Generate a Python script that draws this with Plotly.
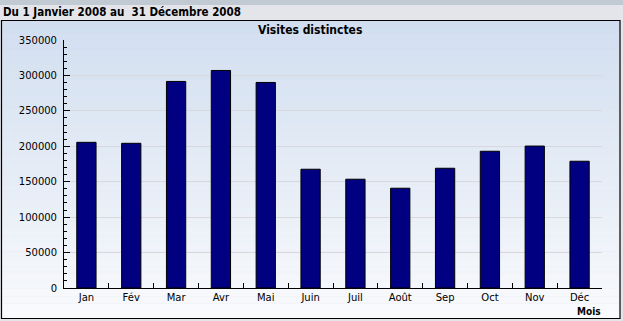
import plotly.graph_objects as go

months = ["Jan", "Fév", "Mar", "Avr", "Mai", "Juin", "Juil", "Août", "Sep", "Oct", "Nov", "Déc"]
visits = [205600, 204200, 291500, 307000, 290100, 167600, 153500, 140800, 169000, 193000, 200300, 178900]
y_ticks = [0, 50000, 100000, 150000, 200000, 250000, 300000, 350000]

W, H = 623, 321
L, R, T, B = 64, 21, 40, 33
pw, ph = W - L - R, H - T - B

def px(x):
    return (x - L) / pw

def py(y):
    return 1 - (y - T) / ph

shapes = []
# top band
shapes.append(dict(type="rect", xref="paper", yref="paper", x0=px(0), x1=px(W), y0=py(5), y1=py(0),
                   fillcolor="#c1c9d3", line_width=0, layer="below"))
# gradient box
top_c = (209, 222, 240)
bot_c = (249, 250, 252)
y_top, y_bot = 20.5, 318.5
n = 40
for i in range(n):
    a = y_top + (y_bot - y_top) * i / n
    b = y_top + (y_bot - y_top) * (i + 1) / n
    t = (i + 0.5) / n
    c = tuple(round(top_c[k] + (bot_c[k] - top_c[k]) * t) for k in range(3))
    shapes.append(dict(type="rect", xref="paper", yref="paper", x0=px(1.5), x1=px(620), y0=py(b), y1=py(a),
                       fillcolor="rgb(%d,%d,%d)" % c, line_width=0, layer="below"))
shapes.append(dict(type="rect", xref="paper", yref="paper", x0=px(1.5), x1=px(620), y0=py(y_bot), y1=py(y_top),
                   fillcolor="rgba(0,0,0,0)", line=dict(color="black", width=1.2), layer="below"))

fig = go.Figure(go.Bar(
    x=months, y=visits, width=0.43,
    marker=dict(color="#000080", line=dict(color="black", width=1)),
))

font = "DejaVu Sans"
cfont = "DejaVu Sans Condensed, Liberation Sans Narrow, DejaVu Sans"
fig.update_layout(
    width=W, height=H,
    margin=dict(l=L, r=R, t=T, b=B),
    paper_bgcolor="#e3e5ea",
    plot_bgcolor="rgba(0,0,0,0)",
    showlegend=False,
    shapes=shapes,
    font=dict(family=font, size=10, color="black"),
    annotations=[
        dict(text="<b>Du 1 Janvier 2008 au  31 Décembre 2008</b>", xref="paper", yref="paper",
             x=px(1), y=py(12), xanchor="left", yanchor="middle", showarrow=False,
             font=dict(family=cfont, size=11.5, color="black")),
        dict(text="<b>Visites distinctes</b>", xref="paper", yref="paper",
             x=px(310), y=py(30), xanchor="center", yanchor="middle", showarrow=False,
             font=dict(family=cfont, size=12, color="black")),
        dict(text="<b>Mois</b>", xref="paper", yref="paper",
             x=px(603), y=py(311), xanchor="right", yanchor="middle", showarrow=False,
             font=dict(family=cfont, size=10, color="black")),
    ],
)
fig.update_xaxes(
    type="category", range=[-0.5, 11.5],
    showline=True, linecolor="black", linewidth=1,
    ticks="inside", tickson="boundaries", ticklen=5, tickcolor="black",
    showgrid=False, tickfont=dict(family=font, size=10),
)
fig.update_yaxes(
    range=[0, 350000], tickvals=y_ticks, ticktext=[str(v) for v in y_ticks],
    showline=True, linecolor="black", linewidth=1,
    ticks="inside", ticklen=6, tickcolor="black", ticklabelstandoff=4,
    minor=dict(dtick=10000, ticks="inside", ticklen=3, tickcolor="black", showgrid=False),
    showgrid=True, gridcolor="#d8d8de", gridwidth=1,
    zeroline=False, tickfont=dict(family=font, size=10),
)
fig.write_html("out.html")
